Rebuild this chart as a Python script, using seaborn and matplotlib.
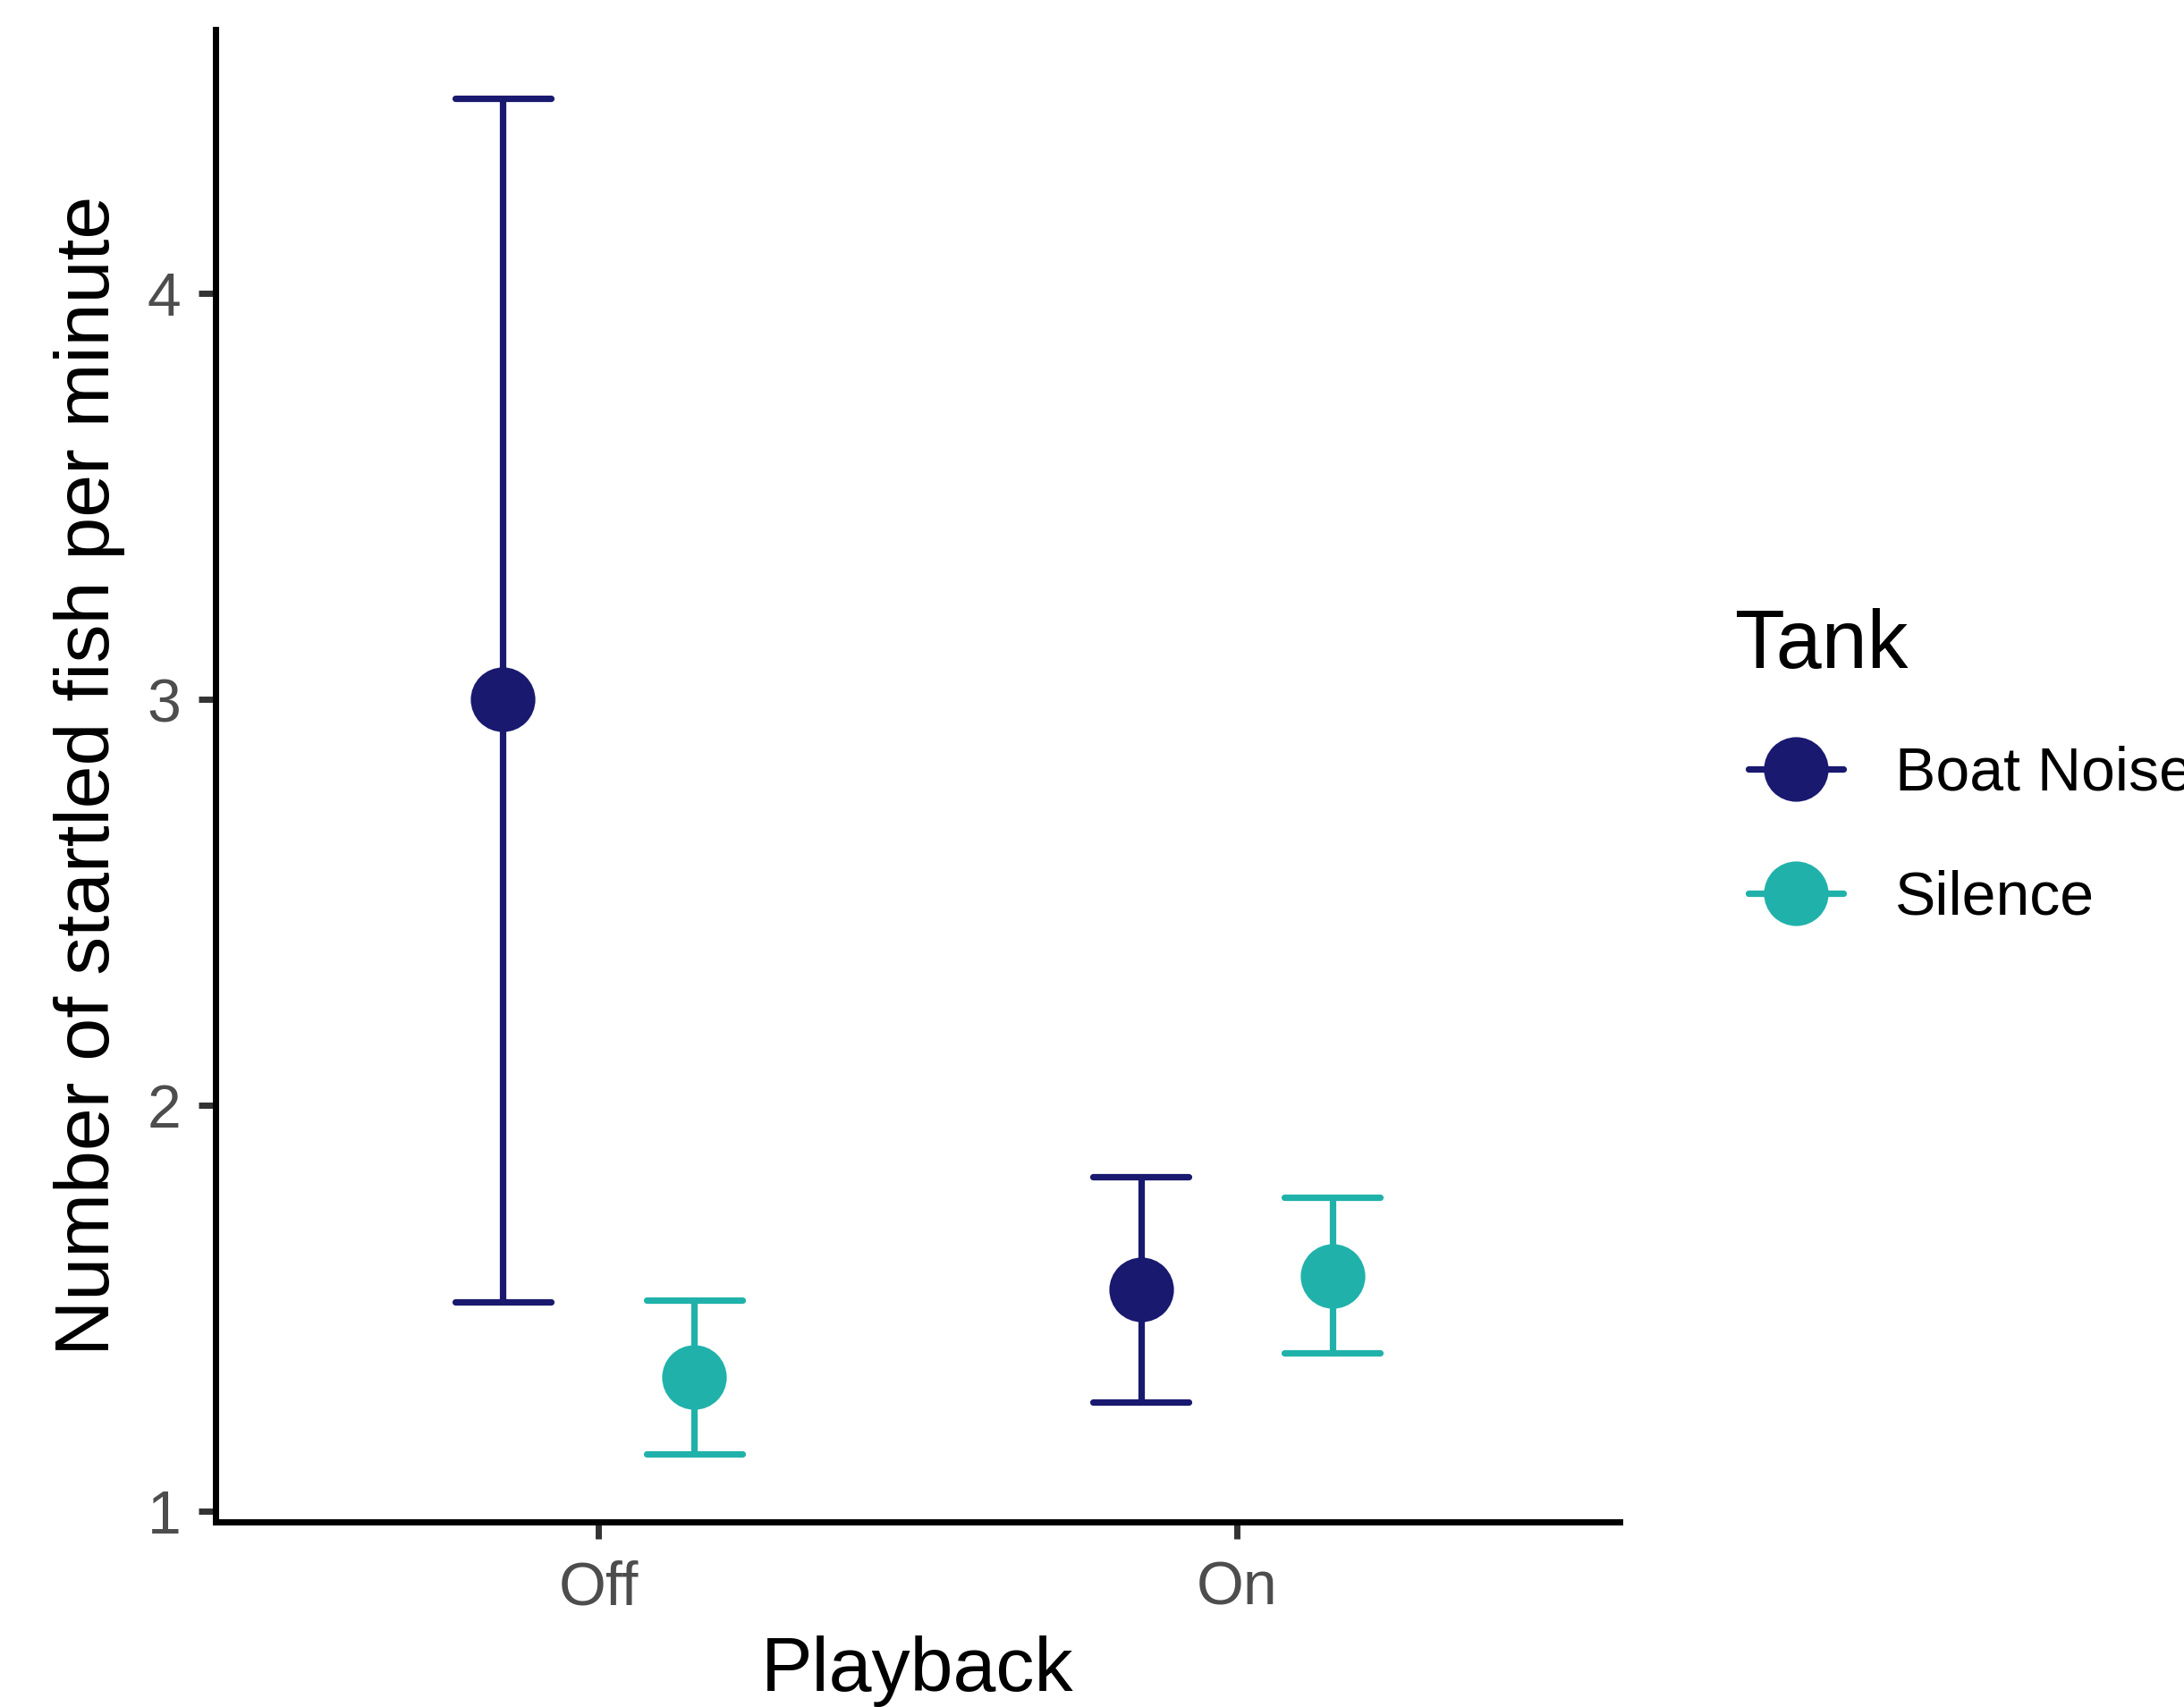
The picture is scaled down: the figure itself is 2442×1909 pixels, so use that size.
import pandas as pd
import seaborn as sns
import matplotlib.pyplot as plt
from matplotlib.lines import Line2D

# values (mean with lower / upper error bar ends)
playback = ["Off", "Off", "On", "On"]
tank = ["Boat Noise", "Silence", "Boat Noise", "Silence"]
mean = [3.00, 1.33, 1.546, 1.579]
lower = [1.515, 1.141, 1.269, 1.390]
upper = [4.480, 1.520, 1.824, 1.773]

tank_order = ["Boat Noise", "Silence"]
colors = {"Boat Noise": "#191970", "Silence": "#20B2AA"}

# long table: median of (lower, mean, upper) is the mean, the full range is the bar
rows = []
for p, t, m, lo, hi in zip(playback, tank, mean, lower, upper):
    for v in (lo, m, hi):
        rows.append({"Playback": p, "Tank": t, "value": v})
df = pd.DataFrame(rows)

sns.set_style("white")
plt.rcParams['font.family'] = ['Liberation Sans', 'DejaVu Sans']
plt.rcParams['text.color'] = 'black'

fig = plt.figure(figsize=(12.21, 9.545), dpi=200)
ax = fig.add_axes([0.0987, 0.1084, 0.6429, 0.8743])

sns.pointplot(data=df, x="Playback", y="value", hue="Tank", hue_order=tank_order,
              order=["Off", "On"], palette=colors, estimator="median",
              errorbar=("pi", 100), dodge=0.3, linestyle="none", capsize=0.15,
              markers="o", markersize=26, markeredgewidth=0,
              err_kws={"linewidth": 2.6}, legend=False, ax=ax)

ax.set_xlim(-0.6, 1.6)
ax.set_ylim(0.974, 4.65)
ax.set_yticks([1, 2, 3, 4])

sns.despine(ax=ax)
for s in ["left", "bottom"]:
    ax.spines[s].set_linewidth(2.5)
    ax.spines[s].set_color("black")

ax.tick_params(axis="both", which="major", length=6.8, width=2.5, color="#333333",
               labelsize=24.5, labelcolor="#4D4D4D", pad=7, left=True, bottom=True)
ax.tick_params(axis="x", pad=8.5)

ax.set_xlabel("Playback", fontsize=31, color="black", labelpad=7.5)
ax.set_ylabel("Number of startled fish per minute", fontsize=31, color="black", labelpad=9)

# legend: title as its own text, keys with a line through the point
fig.text(1940 / 2442, 1 - 747 / 1909, "Tank", fontsize=33, color="black",
         ha="left", va="baseline")
handles = [Line2D([], [], color=colors[t], marker="o", markersize=26, markeredgewidth=0,
                  linewidth=2.6) for t in tank_order]
leg = fig.legend(handles, tank_order, loc="center left",
                 bbox_to_anchor=(1955 / 2442, 1 - 935 / 1909), frameon=False,
                 fontsize=24.5, handlelength=1.56, handletextpad=0.85,
                 labelspacing=1.1, borderpad=0, borderaxespad=0)
for txt in leg.get_texts():
    txt.set_color("black")

fig.savefig("out.png", dpi=200)
